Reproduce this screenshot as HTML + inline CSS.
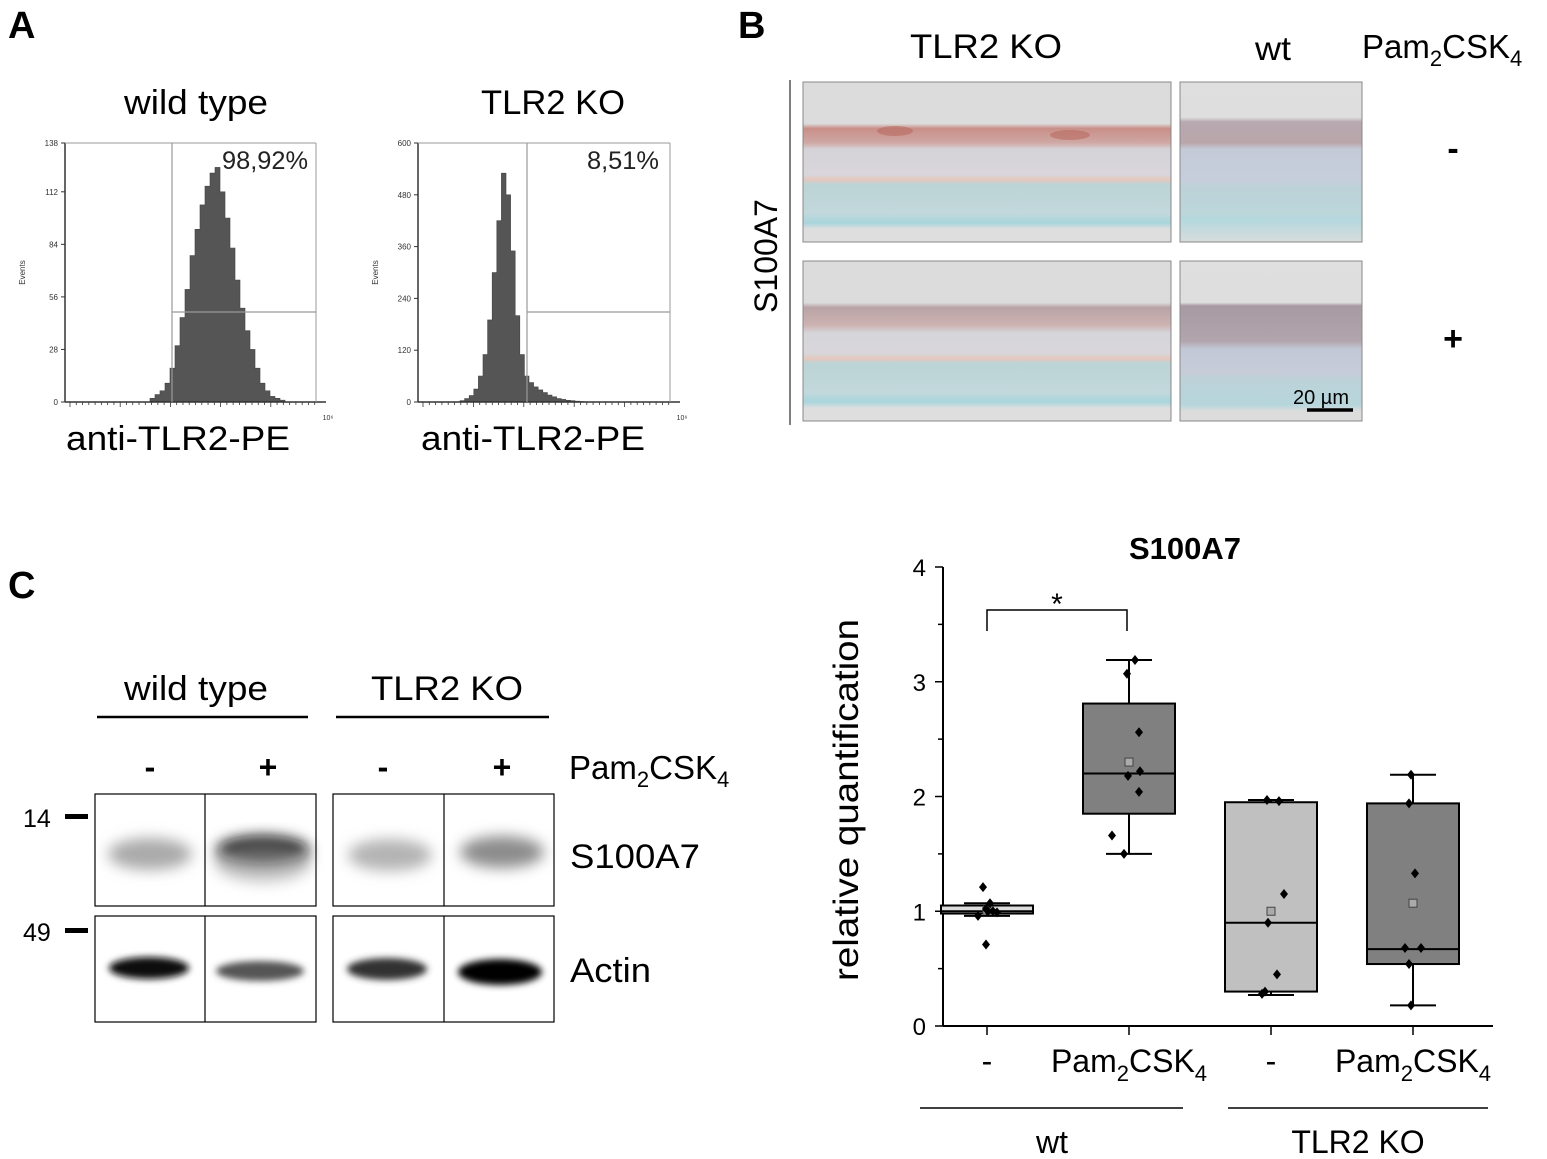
<!DOCTYPE html>
<html><head><meta charset="utf-8">
<style>
html,body{margin:0;padding:0;background:#fff;}
svg{display:block;font-family:"Liberation Sans",Arial,sans-serif;}
</style></head>
<body>
<svg id="fig" width="1547" height="1159" viewBox="0 0 1547 1159" xmlns="http://www.w3.org/2000/svg">
<defs>
  <filter id="blur6" x="-50%" y="-50%" width="200%" height="200%"><feGaussianBlur stdDeviation="7"/></filter>
  <filter id="blur3" x="-50%" y="-50%" width="200%" height="200%"><feGaussianBlur stdDeviation="3.5"/></filter>
  <linearGradient id="histA" x1="0" y1="0" x2="0" y2="1">
    <stop offset="0" stop-color="#dcdcdc"/><stop offset="0.26" stop-color="#dcdcdc"/>
    <stop offset="0.29" stop-color="#c98f88"/><stop offset="0.38" stop-color="#cfa8a4"/>
    <stop offset="0.42" stop-color="#d6d3d8"/><stop offset="0.58" stop-color="#d8d6da"/>
    <stop offset="0.61" stop-color="#e6c8be"/><stop offset="0.64" stop-color="#bcd4d6"/>
    <stop offset="0.82" stop-color="#c2d8dc"/><stop offset="0.88" stop-color="#a8d6dc"/>
    <stop offset="0.92" stop-color="#dedede"/><stop offset="1" stop-color="#dedede"/>
  </linearGradient>
  <linearGradient id="histB" x1="0" y1="0" x2="0" y2="1">
    <stop offset="0" stop-color="#e0dfdf"/><stop offset="0.22" stop-color="#dedede"/>
    <stop offset="0.25" stop-color="#b8a8b0"/><stop offset="0.38" stop-color="#b9a6aa"/>
    <stop offset="0.42" stop-color="#c4cad8"/><stop offset="0.62" stop-color="#c6cedc"/>
    <stop offset="0.66" stop-color="#bcd2d8"/><stop offset="0.82" stop-color="#bcd6da"/>
    <stop offset="0.86" stop-color="#b4d8de"/><stop offset="1" stop-color="#d8dcdc"/>
  </linearGradient>
  <linearGradient id="histC" x1="0" y1="0" x2="0" y2="1">
    <stop offset="0" stop-color="#dcdcdc"/><stop offset="0.26" stop-color="#dcdcdc"/>
    <stop offset="0.29" stop-color="#b9a3a6"/><stop offset="0.40" stop-color="#cdb3b2"/>
    <stop offset="0.45" stop-color="#d6d5d9"/><stop offset="0.58" stop-color="#d8d6da"/>
    <stop offset="0.61" stop-color="#e6c8be"/><stop offset="0.64" stop-color="#bcd4d6"/>
    <stop offset="0.82" stop-color="#c2d8dc"/><stop offset="0.88" stop-color="#a8d6dc"/>
    <stop offset="0.92" stop-color="#dedede"/><stop offset="1" stop-color="#dedede"/>
  </linearGradient>
  <linearGradient id="histD" x1="0" y1="0" x2="0" y2="1">
    <stop offset="0" stop-color="#e0dfdf"/><stop offset="0.26" stop-color="#dedede"/>
    <stop offset="0.28" stop-color="#a89aa2"/><stop offset="0.50" stop-color="#b2a4ac"/>
    <stop offset="0.55" stop-color="#c2c8d6"/><stop offset="0.70" stop-color="#c6ccd8"/>
    <stop offset="0.74" stop-color="#bcd2d8"/><stop offset="0.90" stop-color="#b6d6dc"/>
    <stop offset="0.94" stop-color="#dcdcdc"/><stop offset="1" stop-color="#dcdcdc"/>
  </linearGradient>
</defs>

<!-- ============ Panel A ============ -->
<text x="8" y="38" font-size="38" font-weight="bold">A</text>
<text x="124" y="114" font-size="34" textLength="144" lengthAdjust="spacingAndGlyphs">wild type</text>
<text x="481" y="114" font-size="34" textLength="144" lengthAdjust="spacingAndGlyphs">TLR2 KO</text>
<g id="histWT"></g>
<g id="histKO"></g>
<text x="222" y="169" font-size="25" textLength="86" lengthAdjust="spacingAndGlyphs" fill="#222">98,92%</text>
<text x="587" y="169" font-size="25" textLength="72" lengthAdjust="spacingAndGlyphs" fill="#222">8,51%</text>
<text x="66" y="450" font-size="34" textLength="224" lengthAdjust="spacingAndGlyphs">anti-TLR2-PE</text>
<text x="421" y="450" font-size="34" textLength="224" lengthAdjust="spacingAndGlyphs">anti-TLR2-PE</text>

<!-- ============ Panel B ============ -->
<text x="738" y="38" font-size="38" font-weight="bold">B</text>
<text x="910" y="58" font-size="34" textLength="152" lengthAdjust="spacingAndGlyphs">TLR2 KO</text>
<text x="1255" y="60" font-size="33" textLength="36" lengthAdjust="spacingAndGlyphs">wt</text>
<text x="1362" y="58" font-size="33">Pam<tspan font-size="22" dy="8">2</tspan><tspan dy="-8">CSK</tspan><tspan font-size="22" dy="8">4</tspan></text>
<line x1="790" y1="80" x2="790" y2="425" stroke="#555" stroke-width="1.5"/>
<text transform="translate(777,256) rotate(-90)" font-size="32" text-anchor="middle">S100A7</text>
<rect x="803" y="82" width="368" height="160" fill="url(#histA)" stroke="#888"/>
<rect x="1180" y="82" width="182" height="160" fill="url(#histB)" stroke="#888"/>
<rect x="803" y="261" width="368" height="160" fill="url(#histC)" stroke="#888"/>
<rect x="1180" y="261" width="182" height="160" fill="url(#histD)" stroke="#888"/>
<ellipse cx="895" cy="131" rx="18" ry="5" fill="#b86a60" opacity="0.6"/>
<ellipse cx="1070" cy="135" rx="20" ry="5" fill="#b86a60" opacity="0.6"/>
<text x="1453" y="160" font-size="34" text-anchor="middle" font-weight="bold">-</text>
<text x="1453" y="350" font-size="34" text-anchor="middle" font-weight="bold">+</text>
<text x="1321" y="404" font-size="20" text-anchor="middle">20 µm</text>
<line x1="1307" y1="410" x2="1353" y2="410" stroke="#000" stroke-width="3.5"/>

<!-- ============ Panel C ============ -->
<text x="8" y="598" font-size="38" font-weight="bold">C</text>
<text x="124" y="700" font-size="34" textLength="144" lengthAdjust="spacingAndGlyphs">wild type</text>
<line x1="97" y1="717" x2="308" y2="717" stroke="#000" stroke-width="2.5"/>
<text x="371" y="700" font-size="34" textLength="152" lengthAdjust="spacingAndGlyphs">TLR2 KO</text>
<line x1="336" y1="717" x2="549" y2="717" stroke="#000" stroke-width="2.5"/>
<g font-size="32" font-weight="bold" text-anchor="middle">
<text x="150" y="778">-</text>
<text x="268" y="778">+</text>
<text x="383" y="778">-</text>
<text x="502" y="778">+</text>
</g>
<text x="569" y="779" font-size="33">Pam<tspan font-size="22" dy="8">2</tspan><tspan dy="-8">CSK</tspan><tspan font-size="22" dy="8">4</tspan></text>
<text x="23" y="827" font-size="25">14</text>
<rect x="65" y="814" width="23" height="5" fill="#000"/>
<text x="23" y="941" font-size="25">49</text>
<rect x="65" y="928" width="23" height="5" fill="#000"/>
<g>
  <rect x="95" y="794" width="221" height="112" fill="#fff" stroke="#000" stroke-width="1.2"/>
  <rect x="333" y="794" width="221" height="112" fill="#fff" stroke="#000" stroke-width="1.2"/>
  <ellipse cx="150" cy="854" rx="42" ry="16" fill="#aaa" filter="url(#blur6)"/>
  <ellipse cx="263" cy="850" rx="46" ry="14" fill="#111" filter="url(#blur6)"/>
  <ellipse cx="263" cy="862" rx="48" ry="20" fill="#999" opacity="0.6" filter="url(#blur6)"/>
  <ellipse cx="390" cy="855" rx="42" ry="16" fill="#b4b4b4" filter="url(#blur6)"/>
  <ellipse cx="502" cy="852" rx="42" ry="16" fill="#8c8c8c" filter="url(#blur6)"/>
  <line x1="205" y1="794" x2="205" y2="906" stroke="#000" stroke-width="1.2"/>
  <line x1="444" y1="794" x2="444" y2="906" stroke="#000" stroke-width="1.2"/>
</g>
<g>
  <rect x="95" y="916" width="221" height="106" fill="#fff" stroke="#000" stroke-width="1.2"/>
  <rect x="333" y="916" width="221" height="106" fill="#fff" stroke="#000" stroke-width="1.2"/>
  <ellipse cx="149" cy="968" rx="40" ry="11" fill="#111" filter="url(#blur3)"/>
  <ellipse cx="260" cy="971" rx="44" ry="10" fill="#555" filter="url(#blur3)"/>
  <ellipse cx="387" cy="969" rx="40" ry="11" fill="#333" filter="url(#blur3)"/>
  <ellipse cx="500" cy="972" rx="42" ry="13" fill="#000" filter="url(#blur3)"/>
  <line x1="205" y1="916" x2="205" y2="1022" stroke="#000" stroke-width="1.2"/>
  <line x1="444" y1="916" x2="444" y2="1022" stroke="#000" stroke-width="1.2"/>
</g>
<text x="570" y="868" font-size="34" textLength="130" lengthAdjust="spacingAndGlyphs">S100A7</text>
<text x="570" y="982" font-size="34" textLength="81" lengthAdjust="spacingAndGlyphs">Actin</text>

<!-- ============ Box chart ============ -->
<text x="1185" y="559" font-size="31" font-weight="bold" text-anchor="middle">S100A7</text>
<text transform="translate(858,800) rotate(-90)" font-size="35" text-anchor="middle" textLength="362" lengthAdjust="spacingAndGlyphs">relative quantification</text>
<g id="box"></g>
</svg>

<script>
// ---------- Flow cytometry histograms ----------
const wtCounts = [2,4,6,10,18,30,45,60,78,92,105,115,122,125,112,98,82,65,50,38,28,18,10,6,3,2,1];
const koCounts = [3,8,15,30,60,110,190,300,420,530,480,350,200,110,60,45,35,28,22,16,12,8,6,4,3,2,1];
const wtTicks = [0,28,56,84,112,138];
const koTicks = [0,120,240,360,480,600];
const NS = "http://www.w3.org/2000/svg";
function mk(tag, attrs, parent){const e=document.createElementNS(NS,tag);for(const k in attrs)e.setAttribute(k,attrs[k]);parent.appendChild(e);return e;}

function drawHist(g, counts, ticks, maxV, x0, x1, gateX, binStart, binW){
  const yTop=143, yBot=402;
  const ys = v => yBot - v/maxV*(yBot-yTop);
  let d = `M${binStart},${yBot}`;
  counts.forEach((c,i)=>{const xa=binStart+i*binW; d+=` L${xa},${ys(c)} L${xa+binW},${ys(c)}`;});
  d += ` L${binStart+counts.length*binW},${yBot} Z`;
  const p = mk('path',{d:d,fill:'#555',stroke:'#444','stroke-width':0.6},g);
  
  
  mk('line',{x1:x0,y1:yTop,x2:x0,y2:yBot,stroke:'#333','stroke-width':1.5},g);
  mk('line',{x1:x0,y1:yBot,x2:x1+10,y2:yBot,stroke:'#333','stroke-width':1.5},g);
  mk('line',{x1:x0,y1:yTop,x2:x1,y2:yTop,stroke:'#999','stroke-width':1},g);
  mk('line',{x1:x1,y1:yTop,x2:x1,y2:yBot,stroke:'#999','stroke-width':1},g);
  mk('line',{x1:gateX,y1:yTop,x2:gateX,y2:yBot,stroke:'#999','stroke-width':1.2},g);
  mk('line',{x1:gateX,y1:312,x2:x1,y2:312,stroke:'#999','stroke-width':1.2},g);
  ticks.forEach(t=>{
    const y=ys(t);
    mk('line',{x1:x0-4,y1:y,x2:x0,y2:y,stroke:'#333'},g);
    const tx=mk('text',{x:x0-7,y:y+3,'font-size':8,'text-anchor':'end',fill:'#333'},g);
    tx.textContent=t;
    
    
  });
  for(let k=0;k<40;k++){const x=x0+5+k*(x1-x0)/40; mk('line',{x1:x,y1:yBot,x2:x,y2:yBot+(k%8==0?5:3),stroke:'#333','stroke-width':0.8},g);}
  const e=mk('text',{x:x1+12,y:yBot+18,'font-size':7,'text-anchor':'middle',fill:'#333'},g); e.textContent='10⁶';
  const ev=mk('text',{transform:`translate(${x0-40},${(yTop+yBot)/2}) rotate(-90)`,'font-size':8,'text-anchor':'middle',fill:'#333'},g); ev.textContent='Events';
  
  
}
drawHist(document.getElementById('histWT'), wtCounts, wtTicks, 138, 65, 316, 172, 150, 5);
drawHist(document.getElementById('histKO'), koCounts, koTicks, 600, 418, 670, 527, 460, 4.6);

// ---------- Box plot ----------
const groups = ['-','Pam2CSK4','-','Pam2CSK4'];
const q1 = [0.98,1.85,0.30,0.54];
const q3 = [1.05,2.81,1.95,1.94];
const medians = [1.00,2.20,0.90,0.67];
const whiskerLo = [0.96,1.50,0.27,0.18];
const whiskerHi = [1.07,3.19,1.97,2.19];
const means = [1.01,2.30,1.00,1.07];
const points = [
  [1.21,1.07,1.02,1.00,0.99,0.96,0.71,1.00],
  [3.19,3.07,2.56,2.22,2.18,2.04,1.66,1.50],
  [1.97,1.96,1.15,0.90,0.45,0.30,0.28],
  [2.19,1.94,1.33,0.68,0.68,0.54,0.18]
];
const yTicks = [0,1,2,3,4];
const fills = ['#dcdcdc','#808080','#c0c0c0','#808080'];
const jitter = [[-4,3,-1,6,10,-9,-1,1],[6,-2,10,11,-1,10,-17,-5],[-4,8,13,-3,6,-6,-9],[-2,-4,2,-8,8,-4,-2]];

const g = document.getElementById('box');
const axX = 943, y0 = 1026, y4 = 567, xEnd = 1493;
const yS = v => y0 - v/4*(y0-y4);
const xC = i => 987 + i*142;
const bw = 92;
mk('line',{x1:axX,y1:y4,x2:axX,y2:y0,stroke:'#000','stroke-width':2},g);
mk('line',{x1:axX,y1:y0,x2:xEnd,y2:y0,stroke:'#000','stroke-width':2},g);
for(let v=0; v<=4; v+=0.5){
  mk('line',{x1:axX-(v%1==0?8:5),y1:yS(v),x2:axX,y2:yS(v),stroke:'#000','stroke-width':1.5},g);
}
yTicks.forEach(t=>{
  const tx=mk('text',{x:axX-17,y:yS(t)+9,'font-size':24,'text-anchor':'end'},g);
  tx.textContent=t;
  
  
});
groups.forEach((lab,i)=>{
  const cx=xC(i);
  mk('line',{x1:cx,y1:y0,x2:cx,y2:y0+9,stroke:'#000','stroke-width':1.5},g);
  const tx=mk('text',{x:cx,y:1072,'font-size':32,'text-anchor':'middle'},g);
  if(lab==='-'){tx.textContent='-';}
  else{tx.innerHTML='Pam<tspan font-size="22" dy="9">2</tspan><tspan dy="-9">CSK</tspan><tspan font-size="22" dy="9">4</tspan>';tx.setAttribute('x',cx);}
  
  
  mk('line',{x1:cx,y1:yS(whiskerLo[i]),x2:cx,y2:yS(whiskerHi[i]),stroke:'#000','stroke-width':2},g);
  mk('line',{x1:cx-23,y1:yS(whiskerHi[i]),x2:cx+23,y2:yS(whiskerHi[i]),stroke:'#000','stroke-width':2},g);
  mk('line',{x1:cx-23,y1:yS(whiskerLo[i]),x2:cx+23,y2:yS(whiskerLo[i]),stroke:'#000','stroke-width':2},g);
  const b=mk('rect',{x:cx-bw/2,y:yS(q3[i]),width:bw,height:yS(q1[i])-yS(q3[i]),fill:fills[i],stroke:'#000','stroke-width':2},g);
  
  
  mk('line',{x1:cx-bw/2,y1:yS(medians[i]),x2:cx+bw/2,y2:yS(medians[i]),stroke:'#000','stroke-width':2},g);
  const m=mk('rect',{x:cx-4,y:yS(means[i])-4,width:8,height:8,fill:'#aaa',stroke:'#444','stroke-width':1},g);
  
  
  points[i].forEach((v,j)=>{
    const px=cx+(jitter[i][j]||0), py=yS(v);
    const d=mk('path',{d:`M${px},${py-5} L${px+4},${py} L${px},${py+5} L${px-4},${py} Z`,fill:'#000'},g);
    
    
  });
});
const br=mk('path',{d:`M${xC(0)},631 L${xC(0)},610 L${xC(1)-2},610 L${xC(1)-2},631`,fill:'none',stroke:'#000','stroke-width':1.5},g);


const st=mk('text',{x:1057,y:614,'font-size':30,'text-anchor':'middle'},g); st.textContent='*';


const gl1=mk('line',{x1:920,y1:1108,x2:1183,y2:1108,stroke:'#000','stroke-width':1.5},g);


const gl2=mk('line',{x1:1228,y1:1108,x2:1488,y2:1108,stroke:'#000','stroke-width':1.5},g);


const t1=mk('text',{x:1052,y:1153,'font-size':32,'text-anchor':'middle'},g); t1.textContent='wt';


const t2=mk('text',{x:1358,y:1153,'font-size':32,'text-anchor':'middle'},g); t2.textContent='TLR2 KO';


</script>
</body></html>
